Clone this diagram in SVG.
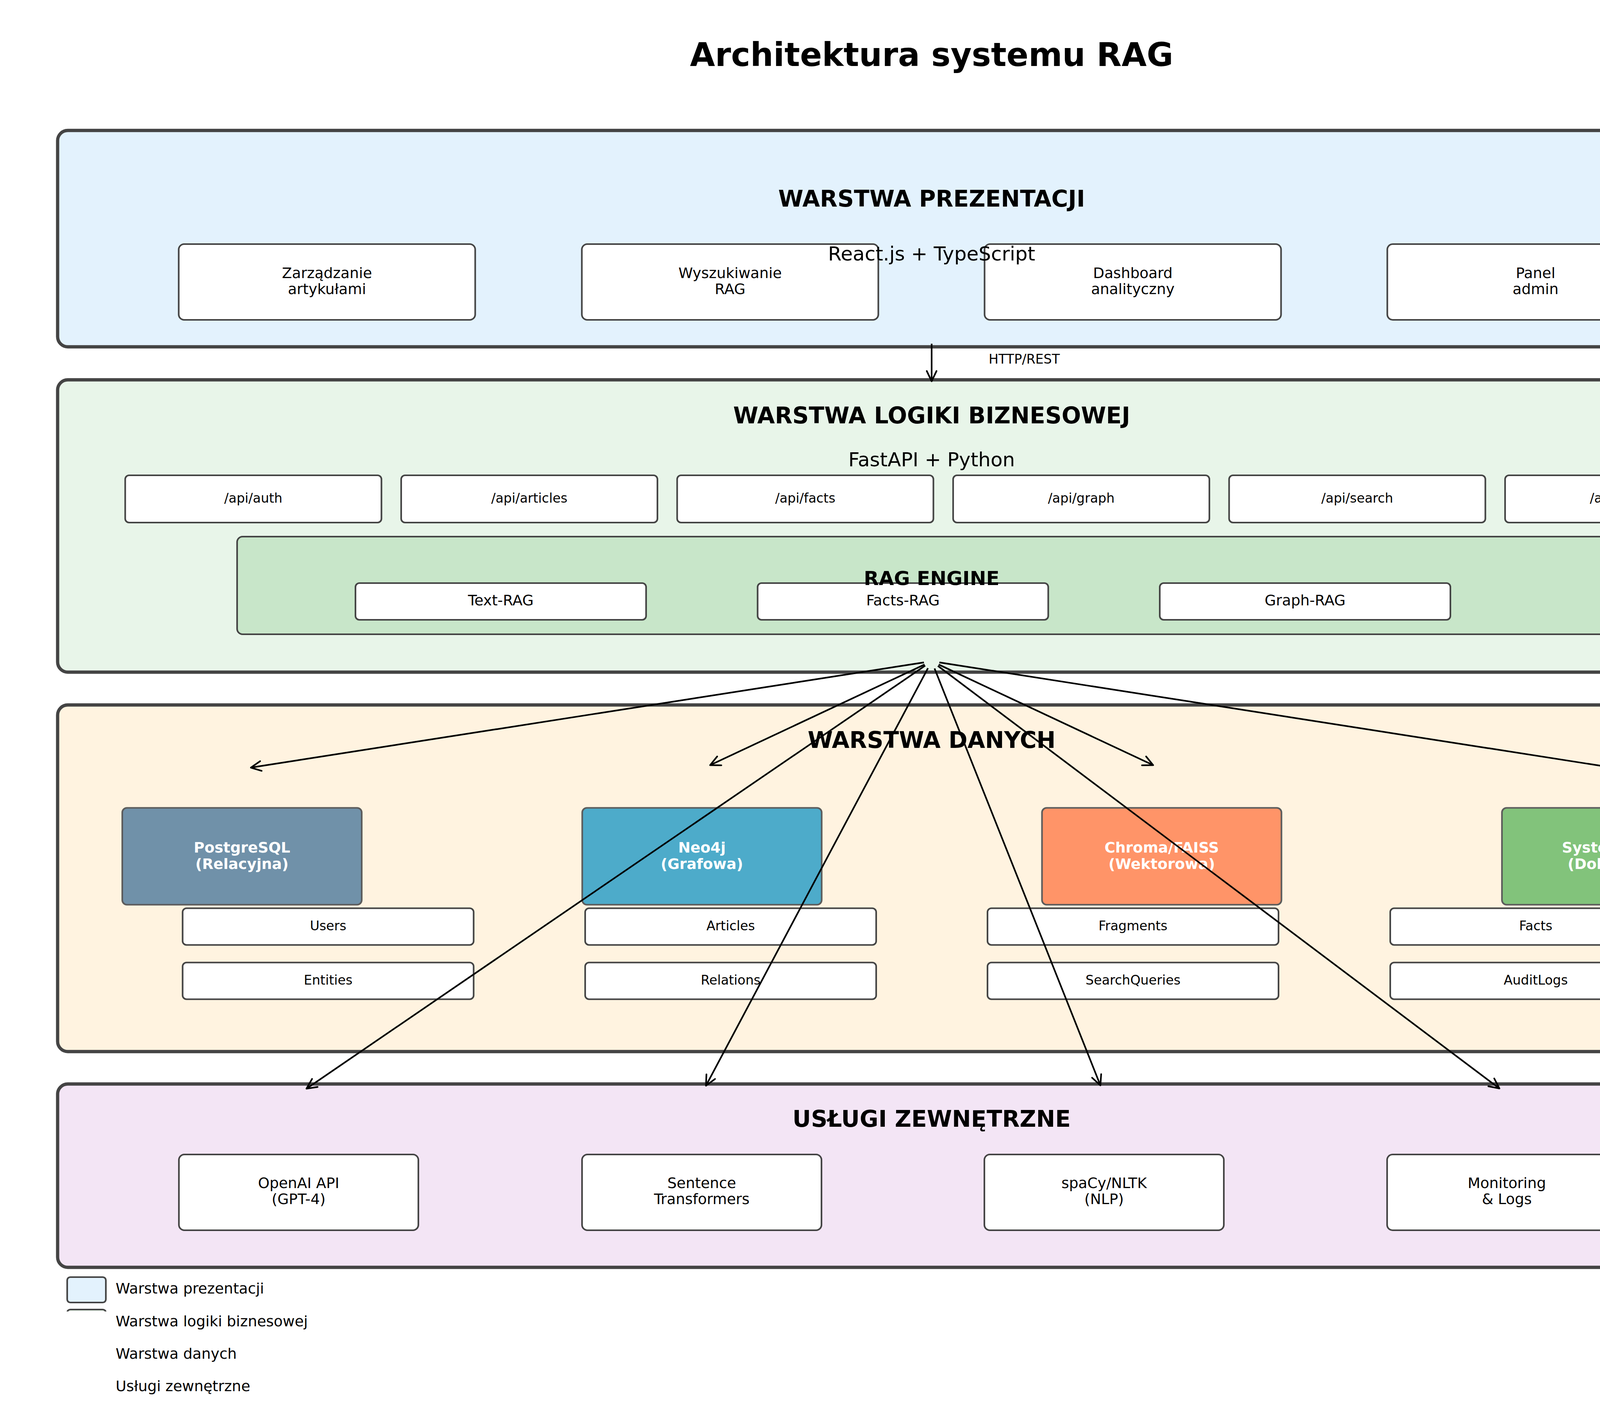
<svg xmlns="http://www.w3.org/2000/svg" width="4770" height="3600" viewBox="0 0 4770 3600">
<defs>
<style>
.layer{stroke:#444;stroke-width:8.3}
.box{fill:#fff;stroke:#444;stroke-width:4.17}
.dbx{stroke:#5c5c5c;stroke-width:4.17}
text{font-family:"DejaVu Sans","Liberation Sans",sans-serif;text-anchor:middle;fill:#000}
.h1{font-weight:bold;font-size:83px}
.h2{font-weight:bold;font-size:58.3px}
.sub{font-size:50px}
.eng{font-weight:bold;font-size:50px}
.f9{font-size:37.5px}
.f8{font-size:33.3px}
.db{font-weight:bold;font-size:37.5px;fill:#fff}
.leg{font-size:37.5px;text-anchor:start}
.arr{stroke:#000;stroke-width:4.17;fill:none;marker-end:url(#ah)}
</style>
<marker id="ah" markerUnits="userSpaceOnUse" markerWidth="80" markerHeight="80" viewBox="-40 -40 80 80" refX="0" refY="0" orient="auto" overflow="visible">
<path d="M-26,-12.5 L0,0 L-26,12.5" fill="none" stroke="#000" stroke-width="4.17" stroke-linecap="round" stroke-linejoin="round"/>
</marker>
<clipPath id="legclip"><rect x="150" y="3340" width="150" height="18"/></clipPath>
</defs>
<rect x="0" y="0" width="4770" height="3600" fill="#fff"/>

<g id="title"><text class="h1" x="2385" y="169">Architektura systemu RAG</text></g>

<g id="presentation-layer">
<rect class="layer" x="147.5" y="334" width="4475" height="554" rx="26" fill="#E3F2FD"/>
<text class="h2" x="2385" y="529">WARSTWA PREZENTACJI</text>
<g id="p-articles"><rect class="box" x="457.5" y="625" width="759" height="194" rx="14"/><text class="f9" x="837" y="712">Zarządzanie</text><text class="f9" x="837" y="753">artykułami</text></g>
<g id="p-search"><rect class="box" x="1489.5" y="625" width="759" height="194" rx="14"/><text class="f9" x="1869" y="712">Wyszukiwanie</text><text class="f9" x="1869" y="753">RAG</text></g>
<g id="p-dashboard"><rect class="box" x="2520.5" y="625" width="759" height="194" rx="14"/><text class="f9" x="2900" y="712">Dashboard</text><text class="f9" x="2900" y="753">analityczny</text></g>
<g id="p-admin"><rect class="box" x="3551.5" y="625" width="759" height="194" rx="14"/><text class="f9" x="3931" y="712">Panel</text><text class="f9" x="3931" y="753">admin</text></g>
<text class="sub" x="2385" y="667">React.js + TypeScript</text>
</g>

<g id="business-layer">
<rect class="layer" x="147.5" y="972.5" width="4475" height="748.5" rx="26" fill="#E8F5E9"/>
<text class="h2" x="2385" y="1084">WARSTWA LOGIKI BIZNESOWEJ</text>
<text class="sub" x="2385" y="1194">FastAPI + Python</text>
<g id="api-auth"><rect class="box" x="320.5" y="1217" width="656" height="121" rx="10"/><text class="f8" x="648.5" y="1287">/api/auth</text></g>
<g id="api-articles"><rect class="box" x="1027" y="1217" width="656" height="121" rx="10"/><text class="f8" x="1355" y="1287">/api/articles</text></g>
<g id="api-facts"><rect class="box" x="1733.5" y="1217" width="656" height="121" rx="10"/><text class="f8" x="2061.5" y="1287">/api/facts</text></g>
<g id="api-graph"><rect class="box" x="2440" y="1217" width="656" height="121" rx="10"/><text class="f8" x="2768" y="1287">/api/graph</text></g>
<g id="api-search"><rect class="box" x="3146.5" y="1217" width="656" height="121" rx="10"/><text class="f8" x="3474.5" y="1287">/api/search</text></g>
<g id="api-analytics"><rect class="box" x="3853" y="1217" width="656" height="121" rx="10"/><text class="f8" x="4181" y="1287">/api/analytics</text></g>
<g id="rag-engine">
<rect x="607" y="1374" width="3556" height="250" rx="14" fill="#C8E6C9" stroke="#444" stroke-width="4.17"/>
<g id="text-rag"><rect class="box" x="910" y="1493" width="744" height="94" rx="10"/><text class="f9" x="1282" y="1550">Text-RAG</text></g>
<g id="facts-rag"><rect class="box" x="1939.5" y="1493" width="744" height="94" rx="10"/><text class="f9" x="2311.5" y="1550">Facts-RAG</text></g>
<g id="graph-rag"><rect class="box" x="2969" y="1493" width="744" height="94" rx="10"/><text class="f9" x="3341" y="1550">Graph-RAG</text></g>
<text class="eng" x="2385" y="1498">RAG ENGINE</text>
</g>
</g>

<g id="data-layer">
<rect class="layer" x="147.5" y="1805" width="4475" height="887.5" rx="26" fill="#FFF3E0"/>
<text class="h2" x="2385" y="1915">WARSTWA DANYCH</text>
<g id="db-postgres"><rect class="dbx" x="313" y="2068.5" width="613" height="248" rx="12" fill="#7091A9"/><text class="db" x="619.5" y="2183">PostgreSQL</text><text class="db" x="619.5" y="2225">(Relacyjna)</text></g>
<g id="db-neo4j"><rect class="dbx" x="1490.5" y="2068.5" width="613" height="248" rx="12" fill="#4DABCA"/><text class="db" x="1797" y="2183">Neo4j</text><text class="db" x="1797" y="2225">(Grafowa)</text></g>
<g id="db-chroma"><rect class="dbx" x="2667.5" y="2068.5" width="613" height="248" rx="12" fill="#FF9468"/><text class="db" x="2974" y="2183">Chroma/FAISS</text><text class="db" x="2974" y="2225">(Wektorowa)</text></g>
<g id="db-files"><rect class="dbx" x="3845" y="2068.5" width="613" height="248" rx="12" fill="#82C37B"/><text class="db" x="4151.5" y="2183">System plików</text><text class="db" x="4151.5" y="2225">(Dokumenty)</text></g>
<g id="t-users"><rect class="box" x="467.5" y="2325.5" width="745" height="94" rx="10"/><text class="f8" x="840" y="2382">Users</text></g>
<g id="t-articles"><rect class="box" x="1498" y="2325.5" width="745" height="94" rx="10"/><text class="f8" x="1870.5" y="2382">Articles</text></g>
<g id="t-fragments"><rect class="box" x="2528" y="2325.5" width="745" height="94" rx="10"/><text class="f8" x="2900.5" y="2382">Fragments</text></g>
<g id="t-facts"><rect class="box" x="3559" y="2325.5" width="745" height="94" rx="10"/><text class="f8" x="3931.5" y="2382">Facts</text></g>
<g id="t-entities"><rect class="box" x="467.5" y="2464.5" width="745" height="94" rx="10"/><text class="f8" x="840" y="2521">Entities</text></g>
<g id="t-relations"><rect class="box" x="1498" y="2464.5" width="745" height="94" rx="10"/><text class="f8" x="1870.5" y="2521">Relations</text></g>
<g id="t-searchqueries"><rect class="box" x="2528" y="2464.5" width="745" height="94" rx="10"/><text class="f8" x="2900.5" y="2521">SearchQueries</text></g>
<g id="t-auditlogs"><rect class="box" x="3559" y="2464.5" width="745" height="94" rx="10"/><text class="f8" x="3931.5" y="2521">AuditLogs</text></g>
</g>

<g id="external-layer">
<rect class="layer" x="147.5" y="2775.5" width="4475" height="469.5" rx="26" fill="#F3E5F5"/>
<text class="h2" x="2385" y="2885">USŁUGI ZEWNĘTRZNE</text>
<g id="ext-openai"><rect class="box" x="458" y="2956" width="613" height="194" rx="14"/><text class="f9" x="764.5" y="3042">OpenAI API</text><text class="f9" x="764.5" y="3083">(GPT-4)</text></g>
<g id="ext-st"><rect class="box" x="1490" y="2956" width="613" height="194" rx="14"/><text class="f9" x="1796.5" y="3042">Sentence</text><text class="f9" x="1796.5" y="3083">Transformers</text></g>
<g id="ext-nlp"><rect class="box" x="2520" y="2956" width="613" height="194" rx="14"/><text class="f9" x="2826.5" y="3042">spaCy/NLTK</text><text class="f9" x="2826.5" y="3083">(NLP)</text></g>
<g id="ext-monitoring"><rect class="box" x="3551" y="2956" width="613" height="194" rx="14"/><text class="f9" x="3857.5" y="3042">Monitoring</text><text class="f9" x="3857.5" y="3083">&amp; Logs</text></g>
</g>

<g id="legend">
<rect x="172" y="3270" width="99" height="65" rx="8" fill="#E3F2FD" stroke="#444" stroke-width="4.17"/>
<rect x="172" y="3353" width="99" height="65" rx="8" fill="#E8F5E9" stroke="#444" stroke-width="4.17" clip-path="url(#legclip)"/>
<text class="leg" x="296" y="3312">Warstwa prezentacji</text>
<text class="leg" x="296" y="3395.5">Warstwa logiki biznesowej</text>
<text class="leg" x="296" y="3479">Warstwa danych</text>
<text class="leg" x="296" y="3562">Usługi zewnętrzne</text>
</g>

<g id="connectors">
<line class="arr" x1="2385" y1="880" x2="2385" y2="976"/>
<text class="f8" x="2531" y="931" style="text-anchor:start">HTTP/REST</text>
<line class="arr" x1="2365.2" y1="1696.1" x2="642.2" y2="1965.4"/>
<line class="arr" x1="2366.9" y1="1701.5" x2="1817.8" y2="1959.2"/>
<line class="arr" x1="2403.1" y1="1701.5" x2="2952.2" y2="1959.2"/>
<line class="arr" x1="2404.8" y1="1696.1" x2="4127.8" y2="1965.4"/>
<line class="arr" x1="2368.5" y1="1704.3" x2="784.5" y2="2787.5"/>
<line class="arr" x1="2375.6" y1="1710.7" x2="1807.3" y2="2779.7"/>
<line class="arr" x1="2392.4" y1="1711.6" x2="2817" y2="2779"/>
<line class="arr" x1="2401" y1="1705" x2="3838.5" y2="2787"/>
</g>
</svg>
